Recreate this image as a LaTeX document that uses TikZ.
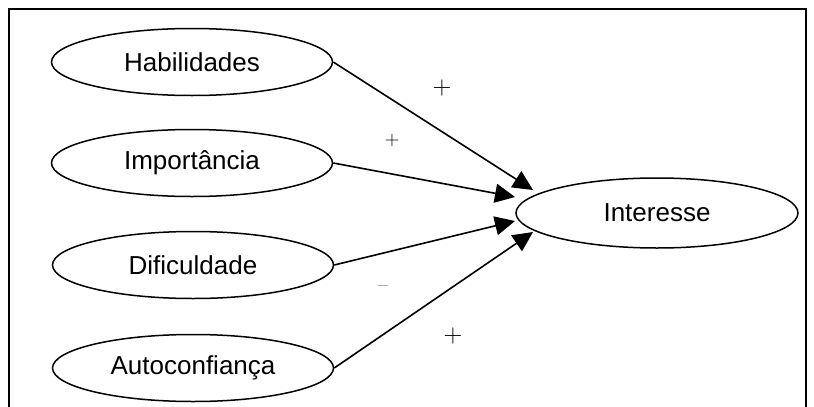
\documentclass[tikz,border=0pt]{standalone}
\usepackage{fontspec}
\setsansfont{Liberation Sans}
\usetikzlibrary{arrows.meta,shapes.geometric}
\begin{document}
\begin{tikzpicture}[x=1pt,y=-1pt,
  var/.style={draw, ellipse, line width=1.5pt, minimum width=281pt, minimum height=67pt, inner sep=0pt,
    font=\sffamily\fontsize{26}{30}\selectfont},
  link/.style={-{Triangle[length=20pt,width=19pt]}, line width=1.6pt},
  sign/.style={inner sep=0pt, text=black}]
\useasboundingbox (0,0) rectangle (814,407);
\draw[line width=1.3pt] (9,407) -- (9,9) -- (806,9) -- (806,407);
\node[var] (hab) at (192,62) {Habilidades};
\node[var] (imp) at (192,163) {Importância};
\node[var] (dif) at (193,265) {Dificuldade};
\node[var] (aut) at (193,368) {Autoconfiança};
\node[var, minimum width=282pt, minimum height=70pt] (int) at (657,213) {Interesse};
\coordinate (t1) at (533,190);
\coordinate (t2) at (515,197);
\coordinate (t3) at (515,221);
\coordinate (t4) at (533,232);
\draw[link] (hab.east) -- (t1);
\draw[link] (imp.east) -- (t2);
\draw[link] (dif.east) -- (t3);
\draw[link] (aut.east) -- (t4);
\node[sign, font=\fontsize{26}{30}\selectfont] (s1) at (442,88) {+};
\node[sign, font=\fontsize{20}{24}\selectfont] (s2) at (392,141) {+};
\node[sign, font=\fontsize{21}{24}\selectfont] (s3) at (383,289) {–};
\node[sign, font=\fontsize{26}{30}\selectfont] (s4) at (453,336) {+};
\end{tikzpicture}
\end{document}
